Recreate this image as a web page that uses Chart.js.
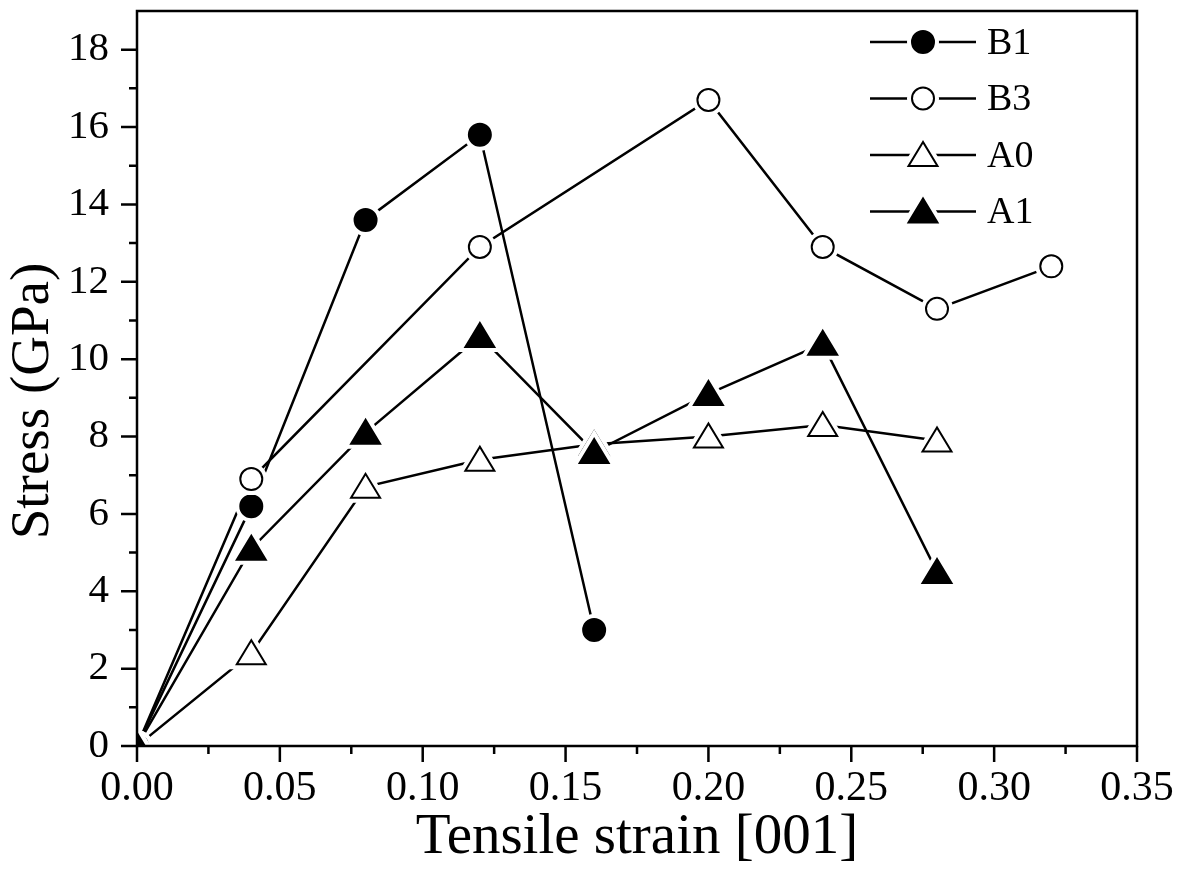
<!DOCTYPE html>
<html>
<head>
<meta charset="utf-8">
<script src="https://cdn.jsdelivr.net/npm/chart.js@4.4.1/dist/chart.umd.min.js"></script>
<style>
  html, body { margin: 0; padding: 0; background: #fff; }
  #caixa { width: 1184px; height: 877px; }
</style>
</head>
<body>
<div id="caixa"><canvas id="grafico"></canvas></div>
<script>
const deformacaoB1 = [0, 0.04, 0.08, 0.12, 0.16];
const tensaoB1 = [0, 6.2, 13.6, 15.8, 3.0];

const deformacaoB3 = [0, 0.04, 0.12, 0.20, 0.24, 0.28, 0.32];
const tensaoB3 = [0, 6.9, 12.9, 16.7, 12.9, 11.3, 12.4];

const deformacaoA = [0, 0.04, 0.08, 0.12, 0.16, 0.20, 0.24, 0.28];
const tensaoA0 = [0, 2.4, 6.7, 7.4, 7.8, 8.0, 8.3, 7.9];
const tensaoA1 = [0, 5.1, 8.1, 10.6, 7.6, 9.1, 10.4, 4.5];

const nomesSeries = ['B1', 'B3', 'A0', 'A1'];
const marcadores = [
  { forma: 'circulo', cheio: true },
  { forma: 'circulo', cheio: false },
  { forma: 'triangulo', cheio: false },
  { forma: 'triangulo', cheio: true }
];

const fonte = 'Liberation Serif, Times New Roman, serif';

function pontos(xs, ys) {
  return xs.map((x, i) => ({ x: x, y: ys[i] }));
}

function caminhoMarcador(ctx, forma, x, y) {
  ctx.beginPath();
  if (forma === 'circulo') {
    ctx.arc(x, y, 11, 0, Math.PI * 2);
  } else {
    ctx.moveTo(x, y - 13);
    ctx.lineTo(x - 14.5, y + 11);
    ctx.lineTo(x + 14.5, y + 11);
    ctx.closePath();
  }
}

function desenharMarcador(ctx, m, x, y) {
  // halo branco para abrir o espaço entre a linha e o marcador
  caminhoMarcador(ctx, m.forma, x, y);
  ctx.lineWidth = 10;
  ctx.strokeStyle = '#fff';
  ctx.stroke();
  caminhoMarcador(ctx, m.forma, x, y);
  ctx.fillStyle = m.cheio ? '#000' : '#fff';
  ctx.fill();
  ctx.lineWidth = 2;
  ctx.strokeStyle = '#000';
  ctx.stroke();
}

const molduraPlugin = {
  id: 'moldura',
  afterDatasetsDraw(chart) {
    const ctx = chart.ctx;
    const area = chart.chartArea;
    ctx.save();
    ctx.beginPath();
    ctx.rect(area.left, area.top, area.right - area.left, area.bottom - area.top);
    ctx.clip();
    chart.data.datasets.forEach((ds, i) => {
      chart.getDatasetMeta(i).data.forEach(p => desenharMarcador(ctx, marcadores[i], p.x, p.y));
    });
    ctx.restore();
  },
  afterDraw(chart) {
    const ctx = chart.ctx;
    const area = chart.chartArea;
    const sx = chart.scales.x, sy = chart.scales.y;
    ctx.save();
    ctx.strokeStyle = '#000';
    ctx.lineWidth = 2.5;
    ctx.strokeRect(area.left, area.top, area.right - area.left, area.bottom - area.top);

    // marcas principais e secundárias
    ctx.beginPath();
    for (let v = 0; v <= 18; v++) {
      const y = sy.getPixelForValue(v);
      const len = v % 2 === 0 ? 16 : 8;
      ctx.moveTo(area.left, y);
      ctx.lineTo(area.left - len, y);
    }
    for (let k = 0; k <= 14; k++) {
      const x = sx.getPixelForValue(k * 0.025);
      const len = k % 2 === 0 ? 16 : 8;
      ctx.moveTo(x, area.bottom);
      ctx.lineTo(x, area.bottom + len);
    }
    ctx.stroke();

    // título do eixo y
    ctx.translate(34, 401);
    ctx.rotate(-Math.PI / 2);
    ctx.fillStyle = '#000';
    ctx.font = '55px ' + fonte;
    ctx.textAlign = 'center';
    ctx.textBaseline = 'middle';
    ctx.fillText('Stress (GPa)', 0, 0);
    ctx.setTransform(1, 0, 0, 1, 0, 0);

    // legenda
    ctx.font = '38px ' + fonte;
    ctx.textAlign = 'left';
    ctx.textBaseline = 'middle';
    nomesSeries.forEach((nome, i) => {
      const y = 42 + i * 56.5;
      ctx.beginPath();
      ctx.moveTo(870, y);
      ctx.lineTo(976, y);
      ctx.lineWidth = 2.5;
      ctx.strokeStyle = '#000';
      ctx.stroke();
      desenharMarcador(ctx, marcadores[i], 923, y);
      ctx.fillStyle = '#000';
      ctx.fillText(nome, 987, y + 2);
    });
    ctx.restore();
  }
};

const estiloLinha = {
  borderColor: '#000',
  borderWidth: 2.5,
  pointRadius: 0,
  pointHoverRadius: 0,
  tension: 0,
  fill: false
};

new Chart(document.getElementById('grafico'), {
  type: 'line',
  data: {
    datasets: [
      { label: nomesSeries[0], data: pontos(deformacaoB1, tensaoB1), ...estiloLinha },
      { label: nomesSeries[1], data: pontos(deformacaoB3, tensaoB3), ...estiloLinha },
      { label: nomesSeries[2], data: pontos(deformacaoA, tensaoA0), ...estiloLinha },
      { label: nomesSeries[3], data: pontos(deformacaoA, tensaoA1), ...estiloLinha }
    ]
  },
  options: {
    responsive: true,
    maintainAspectRatio: false,
    animation: false,
    events: [],
    layout: { padding: { top: 11, right: 47, left: 0, bottom: 0 } },
    plugins: {
      legend: { display: false },
      tooltip: { enabled: false }
    },
    scales: {
      x: {
        type: 'linear',
        min: 0,
        max: 0.35,
        grid: { display: false, drawTicks: false },
        border: { display: false },
        ticks: {
          stepSize: 0.05,
          maxRotation: 0,
          color: '#000',
          padding: 18,
          font: { family: fonte, size: 42 },
          callback: v => v.toFixed(2)
        },
        title: {
          display: true,
          text: 'Tensile strain [001]',
          color: '#000',
          font: { family: fonte, size: 57 },
          padding: { top: 0, bottom: 5 }
        },
        afterFit: s => {
          s.height = 131;
          s.paddingLeft = 0;
          s.paddingRight = 0;
        }
      },
      y: {
        type: 'linear',
        min: 0,
        max: 19,
        grid: { display: false, drawTicks: false },
        border: { display: false },
        ticks: {
          stepSize: 2,
          includeBounds: false,
          color: '#000',
          padding: 28,
          font: { family: fonte, size: 41 }
        },
        afterBuildTicks: s => { s.ticks = s.ticks.filter(t => t.value % 2 === 0); },
        afterFit: s => {
          s.width = 137;
          s.paddingTop = 0;
          s.paddingBottom = 0;
        }
      }
    }
  },
  plugins: [molduraPlugin]
});
</script>
</body>
</html>
